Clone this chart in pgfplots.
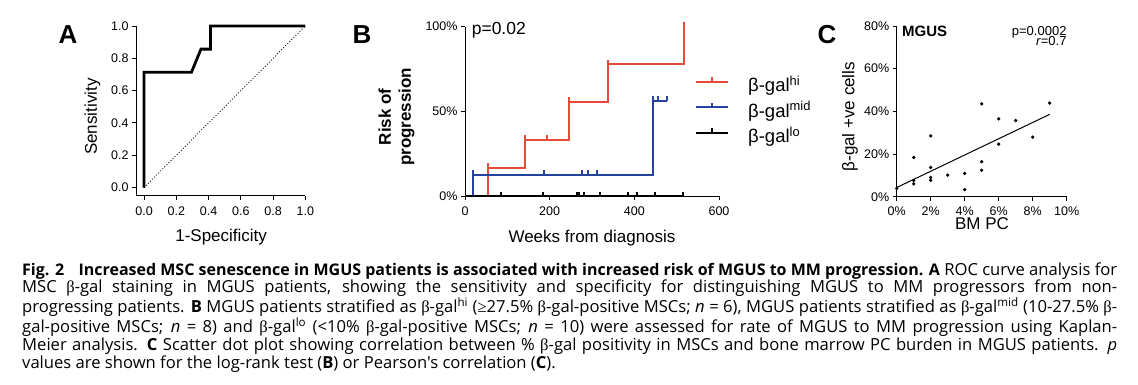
\documentclass[border=0pt]{standalone}
\usepackage{fontspec}
\setmainfont{Liberation Sans}
\newfontfamily\capfont{Open Sans}
\newfontfamily\symfont{Liberation Serif}
\usepackage{pgfplots}
\pgfplotsset{compat=1.18}
\definecolor{kmred}{RGB}{232,74,58}
\definecolor{kmblue}{RGB}{36,66,158}
\pgfdeclareplotmark{cens}{\pgfpathmoveto{\pgfpointorigin}\pgfpathlineto{\pgfpoint{0pt}{4.5pt}}\pgfusepathqstroke}
\pgfplotsset{
  gp/.style={scale only axis, axis x line*=bottom, axis y line*=left, tick align=outside,
    major tick length=4pt, every tick/.style={black, line width=1pt},
    axis line style={line width=1pt, -},
    tick label style={font=\fontsize{12.5}{14}\selectfont},
    xticklabel style={yshift=-3.5pt},
    /pgf/number format/assume math mode=true, clip=false, enlargelimits=false,
    label style={font=\fontsize{17}{20}\selectfont}}
}
\begin{document}
\begin{tikzpicture}[x=1pt,y=1pt]
\fill[white] (0,0) rectangle (1138,384);
\useasboundingbox (0,0) rectangle (1138,384);

% Panel letters
\node[inner sep=0pt, font=\fontsize{26}{26}\selectfont\bfseries] at (68,349) {A};
\node[inner sep=0pt, font=\fontsize{26}{26}\selectfont\bfseries] at (362,349) {B};
\node[inner sep=0pt, font=\fontsize{26}{26}\selectfont\bfseries] at (827,349) {C};

% ---------------- Panel A ----------------
\begin{axis}[gp, at={(136pt,188.3pt)}, anchor=south west, width=169.3pt, height=169.7pt,
  xmin=-0.05, xmax=1, ymin=-0.05, ymax=1,
  xtick={0,0.2,0.4,0.6,0.8,1}, xticklabels={0.0,0.2,0.4,0.6,0.8,1.0},
  ytick={0,0.2,0.4,0.6,0.8,1}, yticklabels={0.0,0.2,0.4,0.6,0.8,1.0},
  xlabel={1-Specificity}, ylabel={Sensitivity},
  xlabel style={at={(axis description cs:0.503,-0.271)}, anchor=base},
  ylabel style={at={(axis description cs:-0.257,0.466)}, anchor=center}]
\addplot[black, dotted, line width=0.9pt] coordinates {(0,0) (1,1)};
\addplot[black, line width=2.8pt] coordinates {(0,0) (0,0.714) (0.294,0.714) (0.353,0.857) (0.412,0.857) (0.412,1) (1,1)};
\end{axis}

% ---------------- Panel B ----------------
\begin{axis}[gp, at={(465pt,187.8pt)}, anchor=south west, width=254pt, height=169.7pt,
  xmin=0, xmax=600, ymin=0, ymax=100,
  xtick={0,200,400,600}, ytick={0,50,100}, yticklabels={0\%,50\%,100\%},
  xlabel={Weeks from diagnosis}, ylabel={Risk of\\progression},
  xlabel style={at={(axis description cs:0.5,-0.27)}, anchor=base},
  ylabel style={at={(axis description cs:-0.27,0.468)}, anchor=center, align=center, font=\fontsize{17}{20}\selectfont\bfseries},
  legend image code/.code={\draw[#1] (0pt,10pt) -- (32pt,10pt); \draw[#1] (16pt,10pt) -- (16pt,14.5pt);},
  legend style={at={(axis description cs:0.9055,0.4976)}, anchor=west, draw=none, fill=none,
    inner sep=0pt, row sep=5.5pt, font=\fontsize{18.5}{20}\selectfont,
    nodes={anchor=base west, inner sep=0pt, text height=13pt, text depth=4.5pt},
    /tikz/every odd column/.append style={column sep=19pt}}]
\addplot[kmred, line width=2pt, forget plot] coordinates {(0,0) (55,0) (55,16.67) (142,16.67) (142,33.33) (245,33.33) (245,55.56) (337,55.56) (337,77.78) (518,77.78) (518,100)};
\addplot[kmred, only marks, mark=cens, mark options={line width=2pt}, forget plot] coordinates {(55,16.67) (142,33.33) (194,33.33) (245,55.56) (337,77.78) (518,100)};
\addplot[kmblue, line width=2pt, forget plot] coordinates {(0,0) (19.8,0) (19.8,12.5) (443,12.5) (443,56.25) (476,56.25)};
\addplot[kmblue, only marks, mark=cens, mark options={line width=2pt}, forget plot] coordinates {(19.8,12.5) (186,12.5) (277,12.5) (290,12.5) (312,12.5) (443,56.25) (455,56.25) (476,56.25)};
\addplot[black, line width=2pt, forget plot] coordinates {(0,0) (518,0)};
\addplot[black, only marks, mark=cens, mark options={line width=2pt}, forget plot] coordinates {(85,0) (184,0) (265,0) (270,0) (281,0) (319,0) (386,0) (405.6,0) (449,0) (515,0)};
\addlegendimage{kmred, line width=2pt}
\addlegendentry{β-gal\textsuperscript{hi}}
\addlegendimage{kmblue, line width=2pt}
\addlegendentry{β-gal\textsuperscript{mid}}
\addlegendimage{black, line width=2pt}
\addlegendentry{β-gal\textsuperscript{lo}}
\node[anchor=base west, inner sep=0pt, font=\fontsize{17.5}{20}\selectfont] at (axis description cs:0.026,0.95) {p=0.02};
\end{axis}

% ---------------- Panel C ----------------
\begin{axis}[gp, at={(896.7pt,187.3pt)}, anchor=south west, width=170pt, height=170.7pt,
  xmin=0, xmax=10, ymin=0, ymax=80,
  xtick={0,2,4,6,8,10}, xticklabels={0\%,2\%,4\%,6\%,8\%,10\%},
  xticklabel style={yshift=1pt},
  ytick={0,20,40,60,80}, yticklabels={0\%,20\%,40\%,60\%,80\%},
  xlabel={BM PC}, ylabel={β-gal +ve cells},
  xlabel style={at={(axis description cs:0.502,-0.195)}, anchor=base},
  ylabel style={at={(axis description cs:-0.275,0.469)}, anchor=center}]
\addplot[black, line width=1pt] coordinates {(0,4.3) (9,38.6)};
\addplot[black, only marks, mark=*, mark size=1.5pt] coordinates {
(0,3.9) (1,18.4) (1,7.6) (1,6.0) (2,28.5) (2,13.7) (2,9.0) (2,7.7) (3,10.1) (4,10.9)
(4,3.3) (5,43.5) (5,16.4) (5,12.4) (6,36.5) (6,24.6) (7,35.7) (8,27.9) (9,43.9)};
\node[anchor=base west, inner sep=0pt, font=\fontsize{15}{18}\selectfont\bfseries] at (axis description cs:0.031,0.937) {MGUS};
\node[anchor=base east, inner sep=0pt, font=\fontsize{13}{15}\selectfont] at (axis description cs:1.0,0.947) {p=0.0002};
\node[anchor=base east, inner sep=0pt, font=\fontsize{13}{15}\selectfont] at (axis description cs:1.0,0.883) {\textit{r}=0.7};
\end{axis}

% ---------------- Caption ----------------
\node[anchor=base west, inner sep=0pt, font=\capfont\fontsize{16.6}{17.7}\selectfont] at (22pt,109pt) {\begin{minipage}[t]{1095pt}\capfont\fontsize{16.6}{17.7}\selectfont
\hbox to 1095pt{{\fontsize{16}{17.7}\selectfont\textbf{Fig. 2}\hspace{0.9em}\textbf{Increased MSC senescence in MGUS patients is associated with increased risk of MGUS to MM progression. A}} ROC curve analysis for}
\hbox to 1095pt{MSC {\symfont β}-gal staining in MGUS patients, showing the sensitivity and specificity for distinguishing MGUS to MM progressors from non-}
\hbox to 1095pt{progressing patients. \textbf{B} MGUS patients stratified as {\symfont β}-gal\textsuperscript{hi} ({\symfont ≥}27.5\% {\symfont β}-gal-positive MSCs; \textit{n} = 6), MGUS patients stratified as {\symfont β}-gal\textsuperscript{mid} (10-27.5\% {\symfont β}-}
\hbox to 1095pt{gal-positive MSCs; \textit{n} = 8) and {\symfont β}-gal\textsuperscript{lo} (<10\% {\symfont β}-gal-positive MSCs; \textit{n} = 10) were assessed for rate of MGUS to MM progression using Kaplan-}
\hbox to 1095pt{Meier analysis. \textbf{C} Scatter dot plot showing correlation between \% {\symfont β}-gal positivity in MSCs and bone marrow PC burden in MGUS patients. \textit{p}}
\hbox{values are shown for the log-rank test (\textbf{B}) or Pearson's correlation (\textbf{C}).}
\end{minipage}};
\end{tikzpicture}
\end{document}
